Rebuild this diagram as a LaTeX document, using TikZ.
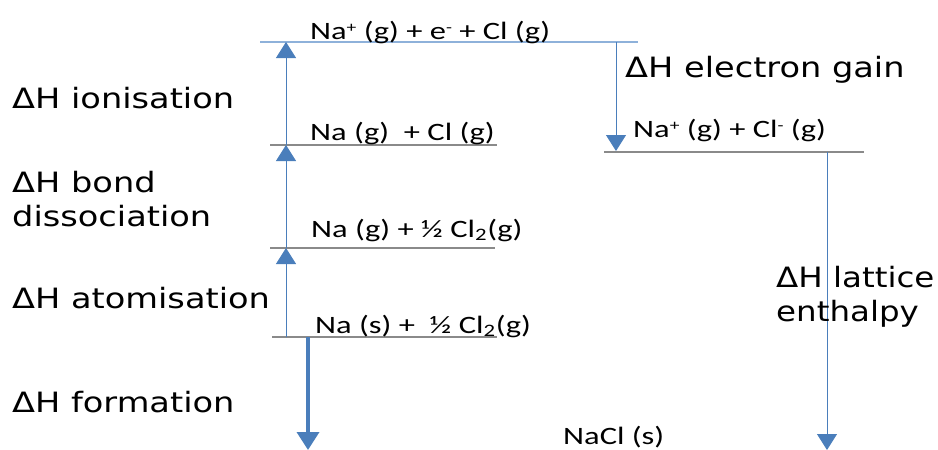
\documentclass[tikz,border=0pt]{standalone}
\usepackage{fontspec}
\setmainfont{Carlito}
\newfontfamily\lblfont{DejaVu Sans}
\usetikzlibrary{arrows.meta}
\definecolor{arrblue}{HTML}{4A7EBB}
\definecolor{lineblue}{HTML}{8EB1DA}
\definecolor{linegray}{HTML}{8A8A8A}
\tikzset{
  level/.style={draw=linegray, line width=1.2pt},
  toplevel/.style={draw=lineblue, line width=1.2pt},
  thinarrow/.style={draw=arrblue, line width=0.9pt, -{Triangle[width=20pt,length=16pt]}},
  thickarrow/.style={draw=arrblue, line width=3.6pt, -{Triangle[width=22pt,length=18pt]}},
  chem/.style={anchor=base west, inner sep=0pt, font=\fontsize{25}{30}\selectfont},
  lbl/.style={anchor=base west, inner sep=0pt, font=\lblfont\fontsize{28}{34}\selectfont, align=left},
}
\newcommand{\hs}[1]{\scalebox{1.3}[1]{#1}}
\newcommand{\ls}[1]{\scalebox{1.2}[1]{#1}}
\newcommand{\chsup}[1]{\raisebox{0.55ex}{\fontsize{15}{15}\selectfont #1}}
\begin{document}
\begin{tikzpicture}[x=1pt,y=-1pt]
\useasboundingbox (0,0) rectangle (938,450);
% level lines
\coordinate (t1) at (260,42);  \coordinate (t2) at (638,42);
\coordinate (g1) at (270,145); \coordinate (g2) at (497,145);
\coordinate (h1) at (270,248); \coordinate (h2) at (495,248);
\coordinate (s1) at (272,337); \coordinate (s2) at (497,337);
\coordinate (i1) at (604,152); \coordinate (i2) at (864,152);
\draw[toplevel] (t1) -- (t2);
\draw[level] (g1) -- (g2);
\draw[level] (h1) -- (h2);
\draw[level] (s1) -- (s2);
\draw[level] (i1) -- (i2);
% arrow end points
\coordinate (a0) at (286,337);
\coordinate (a1) at (286,248);
\coordinate (a2) at (286,145);
\coordinate (a3) at (286,42);
\coordinate (e0) at (616,42);
\coordinate (e1) at (616,151);
\coordinate (l0) at (827,152);
\coordinate (l1) at (827,450);
\coordinate (f0) at (308,337);
\coordinate (f1) at (308,450);
\draw[thinarrow] (a0) -- (a1);
\draw[thinarrow] (a1) -- (a2);
\draw[thinarrow] (a2) -- (a3);
\draw[thinarrow] (e0) -- (e1);
\draw[thinarrow] (l0) -- (l1);
\draw[thickarrow] (f0) -- (f1);
% chemistry labels
\node[chem] (c1) at (310,39) {\hs{Na\chsup{+} (g) + e\chsup{-} + Cl (g)}};
\node[chem] (c2) at (310,140) {\hs{Na (g)\ \ + Cl (g)}};
\node[chem] (c3) at (311,237) {\hs{Na (g) + ½ Cl\textsubscript{2}(g)}};
\node[chem] (c4) at (315,333) {\hs{Na (s) +\ \ ½ Cl\textsubscript{2}(g)}};
\node[chem] (c5) at (633,137) {\hs{Na\chsup{+} (g) + Cl\chsup{-} (g)}};
\node[chem] (c6) at (563,444) {\hs{NaCl (s)}};
% enthalpy labels
\node[lbl] (d1) at (12,108) {\ls{ΔH ionisation}};
\node[lbl] (d2) at (12,192) {\ls{ΔH bond}};
\node[lbl] (d3) at (12,226) {\ls{dissociation}};
\node[lbl] (d4) at (12,308) {\ls{ΔH atomisation}};
\node[lbl] (d5) at (12,412) {\ls{ΔH formation}};
\node[lbl] (d6) at (625,77) {\ls{ΔH electron gain}};
\node[lbl] (d7) at (776,287) {\scalebox{1.16}[1]{ΔH lattice}};
\node[lbl] (d8) at (776,321) {\scalebox{1.16}[1]{enthalpy}};
\end{tikzpicture}
\end{document}
